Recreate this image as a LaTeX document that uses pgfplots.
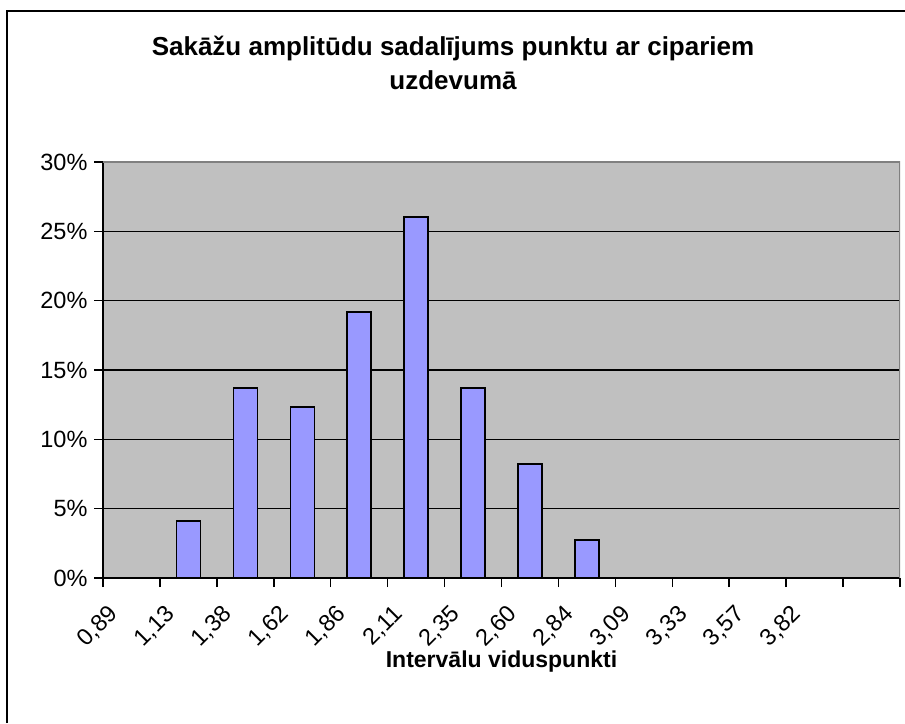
\documentclass[border=0pt]{standalone}
\usepackage{fontspec}
\setmainfont{Liberation Sans}
\usepackage{pgfplots}
\pgfplotsset{compat=1.18}
\definecolor{plotbg}{HTML}{C0C0C0}
\definecolor{barfill}{HTML}{9999FF}
\definecolor{frameGray}{HTML}{808080}
\begin{document}
\begin{tikzpicture}[x=1pt,y=1pt]
\useasboundingbox (0,0) rectangle (905,723);
\draw[line width=2pt] (7,0) -- (7,712) -- (905,712);
\begin{axis}[
  at={(103pt,145pt)}, anchor=south west,
  scale only axis, width=797pt, height=416pt,
  xmin=-0.5, xmax=13.5, ymin=0, ymax=30,
  axis background/.style={fill=plotbg},
  axis x line*=bottom, axis y line*=left,
  axis line style={line width=1.5pt, black},
  xtick={0,...,12},
  xticklabels={{0,89},{1,13},{1,38},{1,62},{1,86},{2,11},{2,35},{2,60},{2,84},{3,09},{3,33},{3,57},{3,82}},
  major x tick style={draw=none},
  minor xtick={-0.5,0.5,...,13.5},
  minor x tick style={line width=1.5pt, black},
  minor tick length=9pt,
  major tick length=9pt,
  tick align=outside,
  ytick={0,5,...,30},
  y tick style={line width=1.5pt, black},
  yticklabel={\pgfmathprintnumber{\tick}\%},
  /pgf/number format/assume math mode=true,
  ymajorgrids, y grid style={line width=1.5pt, black},
  tick label style={font=\fontsize{23.5}{28}\selectfont},
  x tick label style={rotate=45, anchor=north east, xshift=-25pt, yshift=9pt},
  y tick label style={xshift=-3pt},
]
\addplot[ybar, bar width=24pt, fill=barfill, draw=black, line width=1.5pt]
  coordinates {(1,4.11) (2,13.70) (3,12.33) (4,19.18) (5,26.03) (6,13.70) (7,8.22) (8,2.74)};
\draw[frameGray, line width=1.5pt] (rel axis cs:0,1) -- (rel axis cs:1,1) -- (rel axis cs:1,0);
\end{axis}
\node[anchor=base, font=\bfseries\fontsize{26}{30}\selectfont] at (453,667) {Sakāžu amplitūdu sadalījums punktu ar cipariem};
\node[anchor=base, font=\bfseries\fontsize{26}{30}\selectfont] at (453,633) {uzdevumā};
\node[anchor=base, font=\bfseries\fontsize{23}{27}\selectfont] at (501.5,55) {Intervālu viduspunkti};
\end{tikzpicture}
\end{document}
